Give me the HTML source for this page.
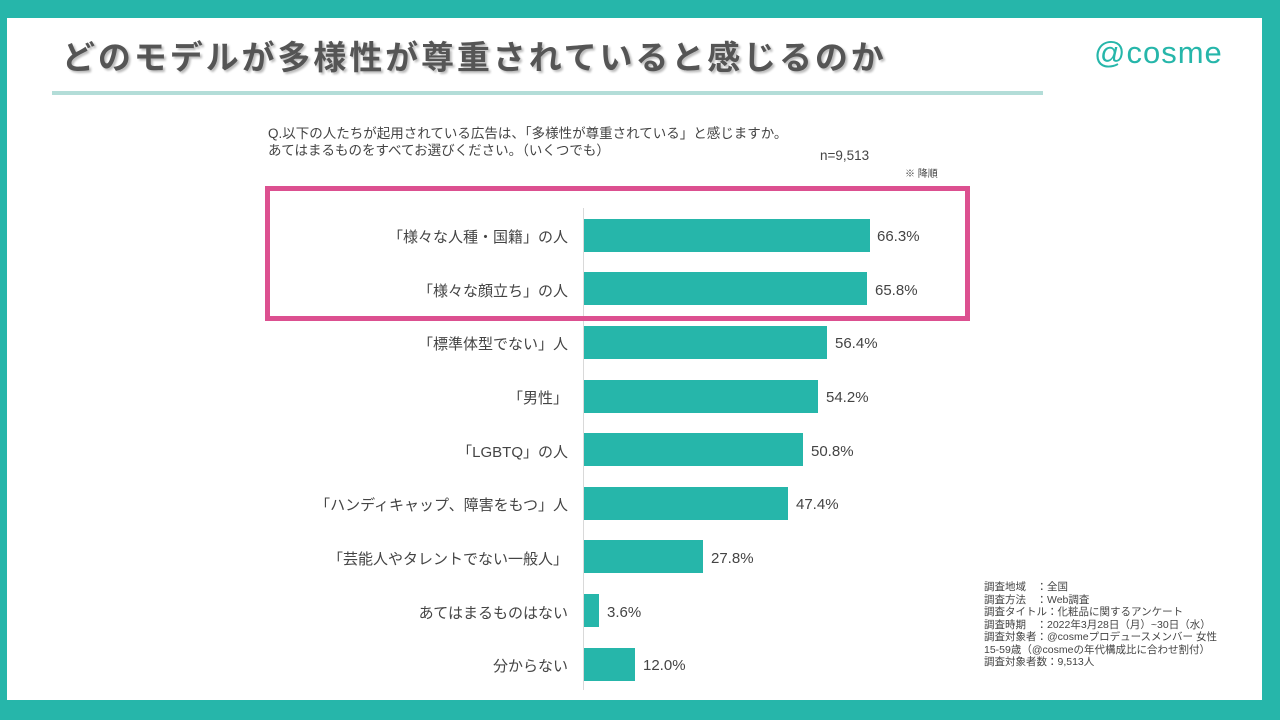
<!DOCTYPE html>
<html><head><meta charset="utf-8"><style>
body{margin:0;width:1280px;height:720px;background:#26b6aa;position:relative;overflow:hidden;font-family:"Liberation Sans","Noto Sans CJK JP",sans-serif;color:#595959}
.w{position:absolute;left:7px;top:18px;width:1255px;height:682px;background:#fff}
.t{position:absolute;left:62px;top:31px;font-size:33px;font-weight:bold;color:#555;letter-spacing:2.9px;text-shadow:2px 2px 2px #bbb;white-space:nowrap}
.logo{position:absolute;left:1094px;top:35px;font-size:31px;color:#26b6aa;letter-spacing:1px}
.hl{position:absolute;left:52px;top:91px;width:991px;height:4px;background:#b3ddd8}
.q{position:absolute;left:268px;top:125px;font-size:13.5px;line-height:17px;color:#444}
.s{position:absolute;font-size:13.5px;color:#444}
.ax{position:absolute;left:583px;top:208px;width:1px;height:482px;background:#d9d9d9}
.bar{position:absolute;left:584px;height:33px;background:#26b6aa}
.lab{position:absolute;right:712px;font-size:15px;color:#444;white-space:nowrap}
.v{position:absolute;font-size:15px;color:#444;margin-top:2px}
.box{position:absolute;left:265px;top:186px;width:695px;height:125px;border:5px solid #dc5090}
.n{position:absolute;left:984px;top:581px;font-size:10.5px;line-height:12.5px;color:#444}
</style></head><body>
<div class="w"></div>
<div class="t">どのモデルが多様性が尊重されていると感じるのか</div>
<div class="logo">@cosme</div>
<div class="hl"></div>
<div class="q">Q.以下の人たちが起用されている広告は、「多様性が尊重されている」と感じますか。<br>あてはまるものをすべてお選びください。（いくつでも）</div>
<div class="s" style="left:820px;top:148px">n=9,513</div>
<div class="s" style="left:905px;top:165px;font-size:10px">※ 降順</div>
<div class="ax"></div>
<div class="box"></div>

<div class="lab" style="top:226px">「様々な人種・国籍」の人</div><div class="bar" style="top:219px;width:286px"></div><div class="v" style="left:877px;top:226px">66.3%</div>
<div class="lab" style="top:280px">「様々な顔立ち」の人</div><div class="bar" style="top:272px;width:283px"></div><div class="v" style="left:875px;top:280px">65.8%</div>
<div class="lab" style="top:333px">「標準体型でない」人</div><div class="bar" style="top:326px;width:243px"></div><div class="v" style="left:835px;top:333px">56.4%</div>
<div class="lab" style="top:387px">「男性」</div><div class="bar" style="top:380px;width:234px"></div><div class="v" style="left:826px;top:387px">54.2%</div>
<div class="lab" style="top:441px">「LGBTQ」の人</div><div class="bar" style="top:433px;width:219px"></div><div class="v" style="left:811px;top:441px">50.8%</div>
<div class="lab" style="top:494px">「ハンディキャップ、障害をもつ」人</div><div class="bar" style="top:487px;width:204px"></div><div class="v" style="left:796px;top:494px">47.4%</div>
<div class="lab" style="top:548px">「芸能人やタレントでない一般人」</div><div class="bar" style="top:540px;width:119px"></div><div class="v" style="left:711px;top:548px">27.8%</div>
<div class="lab" style="top:602px">あてはまるものはない</div><div class="bar" style="top:594px;width:15px"></div><div class="v" style="left:607px;top:602px">3.6%</div>
<div class="lab" style="top:655px">分からない</div><div class="bar" style="top:648px;width:51px"></div><div class="v" style="left:643px;top:655px">12.0%</div>

<div class="n">調査地域　：全国<br>調査方法　：Web調査<br>調査タイトル：化粧品に関するアンケート<br>調査時期　：2022年3月28日（月）~30日（水）<br>調査対象者：@cosmeプロデュースメンバー 女性<br>15-59歳（@cosmeの年代構成比に合わせ割付）<br>調査対象者数：9,513人</div>
</body></html>
